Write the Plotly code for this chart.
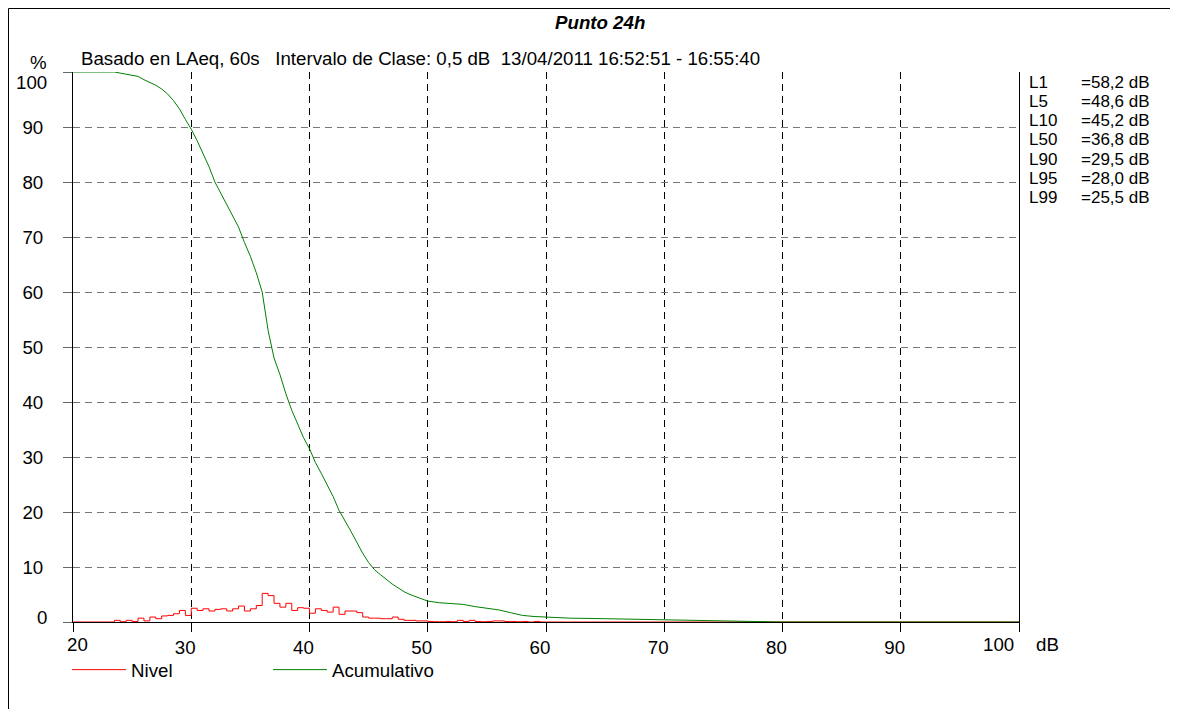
import plotly.graph_objects as go

# ---------------- data ----------------
nivel_db = [20.0, 23.5, 24.0, 24.5, 25.0, 25.5, 26.0, 26.5, 27.0, 27.5, 28.0, 28.5, 29.0, 29.5,
            30.0, 30.5, 31.0, 31.5, 32.0, 32.5, 33.0, 33.5, 34.0, 34.5, 35.0, 35.5, 36.0, 36.5,
            37.0, 37.5, 38.0, 38.5, 39.0, 39.5, 40.0, 40.5, 41.0, 41.5, 42.0, 42.5, 43.0, 43.5,
            44.0, 44.5, 45.0, 45.5, 46.0, 46.5, 47.0, 47.5, 48.0, 48.5, 49.0, 49.5, 50.0, 50.5,
            51.0, 51.5, 52.0, 52.5, 53.0, 53.5, 54.0, 54.5, 55.0, 55.5, 56.0, 56.5, 57.0, 57.5,
            58.0, 58.5, 59.0, 59.5, 100.0]
nivel_pct = [0.0, 0.3, 0.05, 0.3, 0.1, 0.7, 0.2, 0.9, 0.6, 1.1, 1.2, 1.5, 2.1, 1.2,
             2.5, 2.1, 2.4, 2.0, 2.3, 2.4, 2.0, 2.4, 2.9, 2.0, 2.4, 3.0, 5.2, 4.8,
             3.4, 2.7, 3.4, 2.1, 2.6, 2.5, 1.6, 2.4, 2.1, 1.8, 2.7, 1.4, 2.0, 2.0,
             1.7, 0.9, 0.7, 0.7, 0.6, 0.6, 0.9, 0.5, 0.3, 0.3, 0.2, 0.2, 0.1, 0.05,
             0.05, 0.1, 0.05, 0.3, 0.1, 0.3, 0.1, 0.05, 0.1, 0.2, 0.2, 0.1, 0.1, 0.05,
             0.1, 0.0, 0.1, 0.0, 0.0]

acum_db = [20.0, 23.5, 24.0, 24.5, 25.0, 25.5, 26.0, 26.5, 27.0, 27.5, 28.0, 28.5, 29.0, 29.5,
           30.0, 30.5, 31.0, 31.5, 32.0, 32.5, 33.0, 33.5, 34.0, 34.5, 35.0, 35.5, 36.0, 36.5,
           37.0, 37.5, 38.0, 38.5, 39.0, 39.5, 40.0, 40.5, 41.0, 41.5, 42.0, 42.5, 43.0, 43.5,
           44.0, 44.5, 45.0, 45.5, 46.0, 46.5, 47.0, 47.5, 48.0, 48.5, 49.0, 49.5, 50.0,
           51.0, 52.0, 53.0, 54.0, 55.0, 56.0, 57.0, 58.0, 59.0, 60.0, 62.0, 65.0, 70.0,
           75.0, 77.0, 80.0, 100.0]
acum_pct = [100.0, 100.0, 99.8, 99.6, 99.4, 99.2, 98.6, 98.1, 97.6, 96.9, 96.0, 94.8, 93.3, 91.4,
            89.6, 87.5, 85.2, 82.8, 80.0, 78.0, 76.0, 73.8, 71.8, 69.0, 66.5, 63.5, 60.0, 53.0,
            48.0, 45.0, 41.5, 38.5, 36.0, 33.5, 31.5, 29.0, 27.0, 25.0, 22.8, 20.3, 18.5, 16.5,
            14.5, 12.5, 10.8, 9.5, 8.6, 7.7, 6.9, 6.2, 5.5, 5.0, 4.6, 4.2, 3.8,
            3.5, 3.4, 3.2, 2.8, 2.5, 2.2, 1.7, 1.2, 1.0, 0.9, 0.7, 0.6, 0.4,
            0.2, 0.05, 0.0, 0.0]

x_ticks = [20, 30, 40, 50, 60, 70, 80, 90, 100]
y_ticks = [0, 10, 20, 30, 40, 50, 60, 70, 80, 90, 100]
level_names = ["L1", "L5", "L10", "L50", "L90", "L95", "L99"]
level_values = ["58,2", "48,6", "45,2", "36,8", "29,5", "28,0", "25,5"]

title_text = "Punto 24h"
subtitle_text = "Basado en LAeq, 60s   Intervalo de Clase: 0,5 dB  13/04/2011 16:52:51 - 16:55:40"

# ---------------- layout geometry (page pixel coordinates) ----------------
PAGE_W, PAGE_H = 1178, 709
OFF = 8                      # default body margin of the html page
W, H = PAGE_W - OFF, PAGE_H - OFF
L, R, T, B = 73, 1019, 72, 622   # plot area in page coordinates
FONT = "Arial, Liberation Sans, sans-serif"
FS = 18.7
FS_TABLE = 17
ROW = 19.3                   # row pitch of the percentile table


def px(x):
    return (x - L) / (R - L)


def py(y):
    return (B - y) / (B - T)


fig = go.Figure()
fig.add_trace(go.Scatter(x=nivel_db, y=nivel_pct, mode="lines", name="Nivel",
                         line=dict(color="#ff0000", width=1, shape="hv")))
fig.add_trace(go.Scatter(x=acum_db, y=acum_pct, mode="lines", name="Acumulativo",
                         line=dict(color="#008000", width=1)))


def txt(text, x, y, anchor="left", size=FS, **kw):
    return dict(text=text, x=px(x), y=py(y), xref="paper", yref="paper", showarrow=False,
                xanchor=anchor, yanchor="middle", borderpad=0,
                font=dict(size=size, family=FONT, color="black"), **kw)


annotations = [
    txt("<b><i>" + title_text + "</i></b>", 600, 22, "center"),
    txt("%", 38, 62, "center"),
    txt(subtitle_text, 80, 58, "left"),
    txt(str(y_ticks[-1]), 48, 82, "right"),
    txt(str(y_ticks[0]), 48, 617, "right"),
    txt(str(x_ticks[0]), 77, 644, "center"),
    txt(str(x_ticks[-1]), 998, 644, "center"),
    txt("dB", 1035, 644, "left"),
]

for i, (n, v) in enumerate(zip(level_names, level_values)):
    yy = 82 + i * ROW
    annotations.append(txt(n, 1028, yy, "left", size=FS_TABLE))
    annotations.append(txt("=" + v + " dB", 1080, yy, "left", size=FS_TABLE))

shapes = [dict(type="rect", xref="paper", yref="paper", x0=px(8.5), x1=px(1200), y0=py(720),
               y1=py(8.5), line=dict(color="black", width=1), fillcolor="rgba(0,0,0,0)",
               layer="below")]

fig.update_layout(
    width=W, height=H,
    margin=dict(l=L - OFF, r=PAGE_W - R, t=T - OFF, b=PAGE_H - B, pad=0),
    paper_bgcolor="white", plot_bgcolor="white",
    font=dict(family=FONT, size=FS, color="black"),
    showlegend=True,
    legend=dict(orientation="h", x=px(67), y=py(651), xanchor="left", yanchor="top",
                entrywidth=132, entrywidthmode="pixels", itemwidth=54,
                font=dict(size=FS, family=FONT, color="black"), bgcolor="rgba(0,0,0,0)",
                tracegroupgap=0),
    annotations=annotations,
    shapes=shapes,
    xaxis=dict(range=[20, 100], tickvals=x_ticks,
               ticktext=[""] + [str(v) for v in x_ticks[1:-1]] + [""],
               ticks="outside", ticklen=9, tickcolor="black", tickwidth=1,
               showline=True, linecolor="black", linewidth=1, mirror=False,
               showgrid=True, gridcolor="black", gridwidth=1, griddash="7px,5px",
               zeroline=False, ticklabelshift=-6, ticklabelstandoff=0,
               tickfont=dict(size=FS, family=FONT, color="black")),
    yaxis=dict(range=[0, 100], tickvals=y_ticks,
               ticktext=[""] + [str(v) for v in y_ticks[1:-1]] + [""],
               ticks="outside", ticklen=9, tickcolor="#666666", tickwidth=1,
               showline=True, linecolor="black", linewidth=1, mirror=True,
               showgrid=True, gridcolor="#777777", gridwidth=1, griddash="7px,5px",
               zeroline=False, ticklabelstandoff=16,
               tickfont=dict(size=FS, family=FONT, color="black")),
)

fig.write_html("out.html")
